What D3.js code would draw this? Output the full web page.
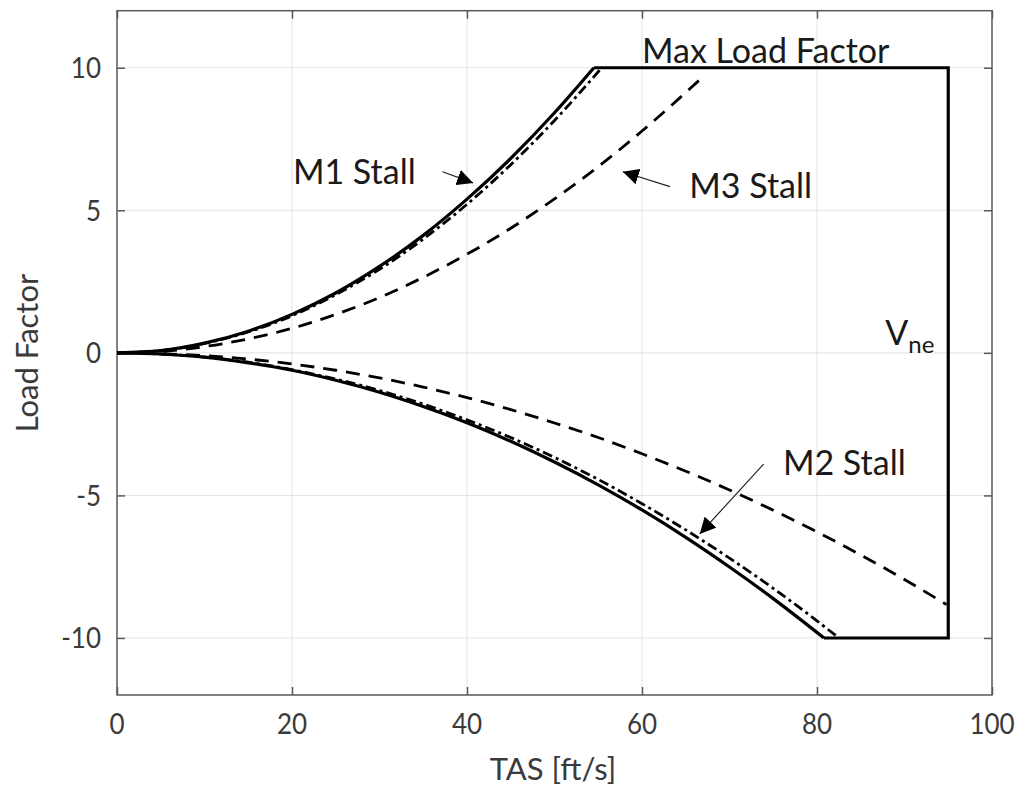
<!DOCTYPE html>
<html>
<head>
<meta charset="utf-8">
<script src="https://cdn.jsdelivr.net/npm/d3@7"></script>
<style>
  html, body { margin: 0; padding: 0; background: #fff; }
  svg { display: block; font-family: Lato, "Open Sans", sans-serif; }
  .grid line { stroke: #e3e3e3; stroke-width: 1; }
  .frame { fill: none; stroke: #5a5a5a; stroke-width: 1.5; }
  .tick-label { fill: #3a3a3a; font-size: 26px; }
  .axis-title { fill: #3a3a3a; font-size: 31px; }
  .note { fill: #1a1a1a; font-size: 34px; }
  .curve { fill: none; stroke: #000; }
</style>
</head>
<body>
<svg id="chart" width="1026" height="796"></svg>
<script>
// TAS [ft/s] against load factor

// M1 stall (solid), positive side
const m1Tas = [0, 5, 10, 15, 20, 25, 30, 35, 40, 45, 50, 54.5];
const m1Load = [0, 0.08, 0.34, 0.76, 1.35, 2.1, 3.03, 4.12, 5.39, 6.82, 8.42, 10];

// dash-dot, positive side
const ddUpTas = [0, 5, 10, 15, 20, 25, 30, 35, 40, 45, 50, 55.4];
const ddUpLoad = [0, 0.08, 0.33, 0.73, 1.3, 2.04, 2.93, 3.99, 5.21, 6.6, 8.15, 10];

// M3 stall (dashed), positive side
const m3Tas = [0, 5, 10, 15, 20, 25, 30, 35, 40, 45, 50, 55, 60, 66.9];
const m3Load = [0, 0.05, 0.22, 0.49, 0.86, 1.35, 1.94, 2.65, 3.46, 4.37, 5.4, 6.53, 7.78, 9.66];

// solid, negative side
const negTas = [0, 5, 10, 15, 20, 25, 30, 35, 40, 45, 50, 55, 60, 65, 70, 75, 80.8];
const negLoad = [0, -0.04, -0.15, -0.35, -0.61, -0.96, -1.38, -1.88, -2.45, -3.1, -3.83, -4.63, -5.51, -6.47, -7.51, -8.62, -10];

// M2 stall (dash-dot), negative side
const m2Tas = [0, 5, 10, 15, 20, 25, 30, 35, 40, 45, 50, 55, 60, 65, 70, 75, 80, 82.5];
const m2Load = [0, -0.04, -0.15, -0.33, -0.59, -0.92, -1.32, -1.8, -2.35, -2.97, -3.67, -4.44, -5.29, -6.21, -7.2, -8.26, -9.4, -10];

// dashed, negative side
const ddNegTas = [0, 5, 10, 15, 20, 25, 30, 35, 40, 45, 50, 55, 60, 65, 70, 75, 80, 85, 90, 94.8];
const ddNegLoad = [0, -0.03, -0.1, -0.22, -0.39, -0.61, -0.88, -1.2, -1.57, -1.99, -2.46, -2.97, -3.54, -4.15, -4.81, -5.52, -6.28, -7.09, -7.95, -8.83];

// limits
const maxLoad = 10;
const minLoad = -10;
const vne = 95;

const xTicks = [0, 20, 40, 60, 80, 100];
const yTicks = [-10, -5, 0, 5, 10];

const svg = d3.select("#chart");

const plotLeft = 117, plotRight = 992, plotTop = 10.7, plotBottom = 695;
const x = d3.scaleLinear().domain([0, 100]).range([plotLeft, plotRight]);
const y = d3.scaleLinear().domain([-12, 12]).range([plotBottom, plotTop]);

// grid
const grid = svg.append("g").attr("class", "grid");
grid.selectAll(".gx").data(xTicks.slice(1, -1)).enter().append("line")
    .attr("x1", d => x(d)).attr("x2", d => x(d))
    .attr("y1", plotTop).attr("y2", plotBottom);
grid.selectAll(".gy").data(yTicks).enter().append("line")
    .attr("x1", plotLeft).attr("x2", plotRight)
    .attr("y1", d => y(d)).attr("y2", d => y(d));

// inward ticks on all four sides
function tickStyle(g) {
    g.select(".domain").remove();
    g.selectAll(".tick line").attr("stroke", "#5a5a5a").attr("stroke-width", 1.5);
    g.selectAll(".tick text").remove();
}
svg.append("g").attr("transform", `translate(0,${plotBottom})`)
    .call(d3.axisBottom(x).tickValues(xTicks).tickSize(-8)).call(tickStyle);
svg.append("g").attr("transform", `translate(0,${plotTop})`)
    .call(d3.axisTop(x).tickValues(xTicks).tickSize(-8)).call(tickStyle);
svg.append("g").attr("transform", `translate(${plotLeft},0)`)
    .call(d3.axisLeft(y).tickValues(yTicks).tickSize(-8)).call(tickStyle);
svg.append("g").attr("transform", `translate(${plotRight},0)`)
    .call(d3.axisRight(y).tickValues(yTicks).tickSize(-8)).call(tickStyle);

svg.append("rect").attr("class", "frame")
    .attr("x", plotLeft).attr("y", plotTop)
    .attr("width", plotRight - plotLeft).attr("height", plotBottom - plotTop);

// tick labels (glyphs a little taller than the font's own shape)
svg.selectAll(".xl").data(xTicks).enter().append("text")
    .attr("class", "tick-label")
    .attr("transform", d => `translate(${x(d)},734) scale(1,1.1)`)
    .attr("text-anchor", "middle")
    .text(d => d);
svg.selectAll(".yl").data(yTicks).enter().append("text")
    .attr("class", "tick-label")
    .attr("transform", d => `translate(101,${y(d) + 10.5}) scale(1,1.1)`)
    .attr("text-anchor", "end")
    .text(d => d);

// axis titles
svg.append("text").attr("class", "axis-title")
    .attr("x", 553).attr("y", 780).attr("text-anchor", "middle")
    .text("TAS [ft/s]");
svg.append("text").attr("class", "axis-title")
    .attr("transform", "translate(38,353) rotate(-90)")
    .attr("text-anchor", "middle")
    .text("Load Factor");

// curves
const line = d3.line().x(d => x(d[0])).y(d => y(d[1])).curve(d3.curveMonotoneX);
const straight = d3.line().x(d => x(d[0])).y(d => y(d[1]));
const zip = (a, b) => a.map((v, i) => [v, b[i]]);

function drawCurve(pts, width, dash, gen) {
    svg.append("path").datum(pts)
        .attr("class", "curve")
        .attr("stroke-width", width)
        .attr("stroke-dasharray", dash)
        .attr("d", gen || line);
}

drawCurve(zip(m3Tas, m3Load), 2.8, "14,9");
drawCurve(zip(ddNegTas, ddNegLoad), 2.8, "14,9");
drawCurve(zip(ddUpTas, ddUpLoad), 2.8, "10,4,3,4");
drawCurve(zip(m2Tas, m2Load), 2.8, "10,4,3,4");
drawCurve(zip(m1Tas, m1Load), 3.2, null);
drawCurve(zip(negTas, negLoad), 3.2, null);
// flight envelope limits
drawCurve([[m1Tas[m1Tas.length - 1], maxLoad], [vne, maxLoad], [vne, minLoad],
           [negTas[negTas.length - 1], minLoad]], 3.2, null, straight);

// annotations
svg.append("defs").append("marker")
    .attr("id", "arrow").attr("viewBox", "0 0 10 10")
    .attr("refX", 10).attr("refY", 5)
    .attr("markerWidth", 16).attr("markerHeight", 16)
    .attr("markerUnits", "userSpaceOnUse")
    .attr("orient", "auto")
    .append("path").attr("d", "M0,0L10,5L0,10z").attr("fill", "#000");

function arrow(x1, y1, x2, y2) {
    svg.append("line")
        .attr("x1", x(x1)).attr("y1", y(y1))
        .attr("x2", x(x2)).attr("y2", y(y2))
        .attr("stroke", "#222").attr("stroke-width", 1.2)
        .attr("marker-end", "url(#arrow)");
}
arrow(37.2, 6.35, 40.7, 5.96);
arrow(63.2, 5.83, 57.8, 6.35);
arrow(73.9, -3.9, 66.6, -6.35);

function note(text, vx, vy) {
    return svg.append("text").attr("class", "note")
        .attr("x", x(vx)).attr("y", y(vy)).text(text);
}
note("M1 Stall", 20.1, 5.92);
note("M3 Stall", 65.4, 5.44);
note("M2 Stall", 76.1, -4.3);
note("Max Load Factor", 60, 10.17);
const vneText = note("V", 87.8, 0.26);
vneText.append("tspan").attr("font-size", 24).attr("dy", 8).text("ne");
</script>
</body>
</html>
